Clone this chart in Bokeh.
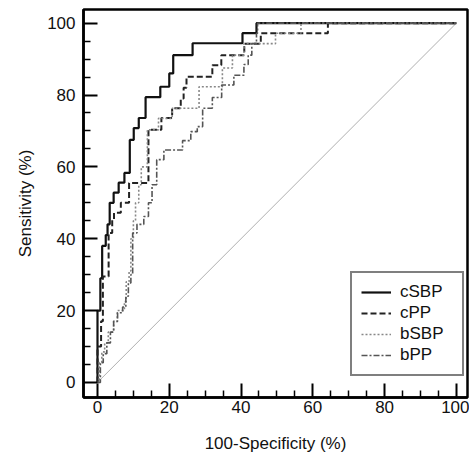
from bokeh.plotting import figure
from bokeh.models import FixedTicker, Range1d
from bokeh.embed import file_html
from bokeh.resources import INLINE

# ROC curves: 100-Specificity (%) vs Sensitivity (%)
fpr_csbp = [0, 0, 0.8, 1.3, 2.3, 2.8, 3.4, 4.5, 5.9, 7.5, 9.0, 10.1, 11.5, 13.4, 17.5, 20.0, 21.1, 26.5, 40.4, 44.3, 100]
tpr_csbp = [0, 20, 29, 38, 41, 44, 50, 52.8, 55.6, 58.3, 67.5, 70.8, 73.6, 79.4, 82.3, 86.0, 91.1, 94.4, 97.2, 100, 100]

fpr_cpp = [0, 0, 1.0, 1.5, 3.1, 4.1, 4.6, 6.5, 8.8, 14.2, 17.8, 20.8, 23.2, 24.0, 24.8, 32.0, 34.5, 40.9, 45.5, 64.2, 100]
tpr_cpp = [0, 10, 17, 29.5, 41.6, 45.3, 47.2, 50, 55.5, 70.3, 73.6, 76.3, 79.0, 82.0, 85.1, 88.3, 91.1, 94.3, 97.2, 100, 100]

fpr_bsbp = [0, 0.5, 1.2, 2.0, 3.0, 4.5, 5.5, 7.5, 8.0, 8.8, 9.3, 10.0, 10.6, 11.5, 12.2, 13.9, 17.0, 20.8, 28.3, 34.8, 37.6, 40.8, 49.6, 56.7, 100]
tpr_bsbp = [0, 5.6, 8.5, 11.0, 14.0, 17.0, 20.0, 22.5, 28.0, 31.0, 40.0, 45.0, 50.0, 55.0, 60.0, 70.3, 73.5, 76.3, 82.3, 87.5, 91.1, 94.3, 97.2, 100, 100]

fpr_bpp = [0, 0.8, 1.6, 2.6, 3.6, 4.5, 5.6, 7.0, 7.9, 8.6, 9.3, 9.8, 11.0, 12.9, 14.2, 15.2, 16.5, 18.5, 23.7, 26.0, 27.8, 29.3, 32.0, 34.6, 38.0, 40.8, 42.0, 43.0, 44.3, 44.6, 100]
tpr_bpp = [0, 5.5, 8.0, 11.0, 14.0, 17.0, 19.4, 21.0, 24.0, 27.7, 30.0, 41.6, 44.0, 46.2, 50.0, 55.0, 62.0, 64.7, 67.3, 69.8, 71.2, 76.3, 79.3, 82.8, 85.5, 88.5, 91.1, 94.3, 97.2, 100, 100]

diag_x = [0, 100]
diag_y = [0, 100]

major_ticks = [0, 20, 40, 60, 80, 100]
minor_ticks = [5, 10, 15, 25, 30, 35, 45, 50, 55, 65, 70, 75, 85, 90, 95]

FONT = "Liberation Sans"

p = figure(width=469, height=455, output_backend="svg", toolbar_location=None,
           title=None,
           x_range=Range1d(-3.9, 103.1), y_range=Range1d(-4.2, 103.8),
           min_border_left=83, min_border_right=2, min_border_top=9, min_border_bottom=57)

p.xgrid.visible = False
p.ygrid.visible = False
p.outline_line_color = "black"
p.outline_line_width = 2.5
p.background_fill_color = "white"
p.border_fill_color = "white"

p.line(diag_x, diag_y, line_color="#b0b0b0", line_width=1)

p.step(fpr_csbp, tpr_csbp, mode="after", line_color="#111111", line_width=2.2, legend_label="cSBP")
p.step(fpr_cpp, tpr_cpp, mode="after", line_color="#222222", line_width=2.0, line_dash="6 3", legend_label="cPP")
p.step(fpr_bsbp, tpr_bsbp, mode="after", line_color="#888888", line_width=1.6, line_dash="2 2", legend_label="bSBP")
p.step(fpr_bpp, tpr_bpp, mode="after", line_color="#555555", line_width=1.6, line_dash="6 2 2 2", legend_label="bPP")

for ax in (p.xaxis[0], p.yaxis[0]):
    ax.ticker = FixedTicker(ticks=major_ticks, minor_ticks=minor_ticks)
    ax.axis_line_color = "black"
    ax.axis_line_width = 2.5
    ax.major_tick_in = 14
    ax.major_tick_out = 0
    ax.minor_tick_in = 7
    ax.minor_tick_out = 0
    ax.major_tick_line_width = 2
    ax.minor_tick_line_width = 1.5
    ax.major_tick_line_color = "black"
    ax.minor_tick_line_color = "black"
    ax.major_label_text_font = FONT
    ax.major_label_text_font_size = "17px"
    ax.major_label_text_color = "#111111"
    ax.major_label_text_line_height = 1.0
    ax.axis_label_text_font = FONT
    ax.axis_label_text_font_size = "17px"
    ax.axis_label_text_font_style = "normal"
    ax.axis_label_text_color = "#111111"
    ax.axis_label_text_line_height = 1.0

p.xaxis.axis_label = "100-Specificity (%)"
p.yaxis.axis_label = "Sensitivity (%)"
p.xaxis.major_label_standoff = 3
p.xaxis.axis_label_standoff = 18
p.yaxis.major_label_standoff = 8
p.yaxis.axis_label_standoff = 9

leg = p.legend[0]
leg.location = (267, 21)
leg.border_line_color = "black"
leg.border_line_width = 2
leg.background_fill_color = "white"
leg.background_fill_alpha = 1
leg.padding = 9
leg.spacing = 1
leg.margin = 0
leg.glyph_width = 30
leg.glyph_height = 20
leg.label_height = 20
leg.label_width = 53
leg.label_standoff = 9
leg.label_text_font = FONT
leg.label_text_font_size = "17px"
leg.label_text_color = "#111111"

open("out.html", "w").write(file_html(p, INLINE))
